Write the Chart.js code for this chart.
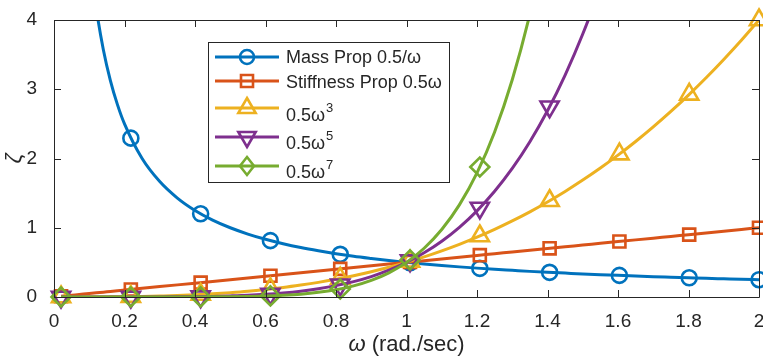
<!DOCTYPE html>
<html><head><meta charset="utf-8">
<script src="https://cdn.jsdelivr.net/npm/chart.js@4/dist/chart.umd.min.js"></script>
<style>html,body{margin:0;padding:0;background:#fff}#wrap{width:763px;height:360px}</style>
</head><body><div id="wrap"><canvas id="c" width="763" height="360"></canvas></div>
<script>
// ---- data ----
const lineOmega = [0.02,0.06,0.10,0.12,0.14,0.16,0.18,0.20,0.25,0.30,0.35,0.40,0.45,0.50,0.55,0.60,0.65,0.70,0.75,0.80,0.85,0.90,0.95,1.00,1.05,1.10,1.15,1.20,1.25,1.30,1.35,1.40,1.45,1.50,1.55,1.60,1.65,1.70,1.75,1.80,1.85,1.90,1.95,2.00];
const massLine = [null,null,5.000,4.167,3.571,3.125,2.778,2.500,2.000,1.667,1.429,1.250,1.111,1.000,0.909,0.833,0.769,0.714,0.667,0.625,0.588,0.556,0.526,0.500,0.476,0.455,0.435,0.417,0.400,0.385,0.370,0.357,0.345,0.333,0.323,0.313,0.303,0.294,0.286,0.278,0.270,0.263,0.256,0.250];
const stiffLine = [0.010,0.030,0.050,0.060,0.070,0.080,0.090,0.100,0.125,0.150,0.175,0.200,0.225,0.250,0.275,0.300,0.325,0.350,0.375,0.400,0.425,0.450,0.475,0.500,0.525,0.550,0.575,0.600,0.625,0.650,0.675,0.700,0.725,0.750,0.775,0.800,0.825,0.850,0.875,0.900,0.925,0.950,0.975,1.000];
const cubicLine = [0.000,0.000,0.001,0.001,0.001,0.002,0.003,0.004,0.008,0.014,0.021,0.032,0.046,0.063,0.083,0.108,0.137,0.172,0.211,0.256,0.307,0.365,0.429,0.500,0.579,0.666,0.760,0.864,0.977,1.099,1.230,1.372,1.524,1.688,1.862,2.048,2.246,2.457,2.680,2.916,3.166,3.430,3.707,4.000];
const quinticLine = [0,0,0,0,0,0,0,0,0.000,0.001,0.003,0.005,0.009,0.016,0.025,0.039,0.058,0.084,0.119,0.164,0.222,0.295,0.387,0.500,0.638,0.805,1.006,1.244,1.526,1.856,2.242,2.689,3.205,3.797,4.473,5.243,null,null,null,null,null,null,null,null];
const septicLine = [0,0,0,0,0,0,0,0,0.000,0.000,0.000,0.001,0.002,0.004,0.008,0.014,0.025,0.041,0.067,0.105,0.160,0.239,0.349,0.500,0.704,0.974,1.330,1.792,2.384,3.137,4.086,5.271,null,null,null,null,null,null,null,null,null,null,null,null];

const markerOmega = [0.02,0.218,0.416,0.614,0.812,1.01,1.208,1.406,1.604,1.802,2.0];
const massMarkers = [null,2.294,1.202,0.814,0.616,0.495,0.414,0.356,0.312,0.277,0.250];
const stiffMarkers = [0.010,0.109,0.208,0.307,0.406,0.505,0.604,0.703,0.802,0.901,1.000];
const cubicMarkers = [0.000,0.005,0.036,0.116,0.268,0.515,0.881,1.390,2.063,2.926,4.000];
const quinticMarkers = [0.000,0.000,0.006,0.044,0.176,0.526,1.286,2.747,null,null,null];
const septicMarkers = [0.000,0.000,0.001,0.016,0.116,0.536,1.877,null,null,null,null];

const xTickValues = [0,0.2,0.4,0.6,0.8,1,1.2,1.4,1.6,1.8,2];
const xTickLabels = ['0','0.2','0.4','0.6','0.8','1','1.2','1.4','1.6','1.8','2'];
const yTickValues = [0,1,2,3,4];
const yTickLabels = ['0','1','2','3','4'];

const seriesNames = ['Mass Prop 0.5/\u03C9','Stiffness Prop 0.5\u03C9','0.5\u03C9','0.5\u03C9','0.5\u03C9'];
const seriesSup = ['','','3','5','7'];
const xTitleSym = '\u03C9';
const xTitleRest = ' (rad./sec)';
const yTitle = '\u03B6';

// ---- styles ----
const colors = ['#0072BD','#D95319','#EDB120','#7E2F8E','#77AC30'];
const styles = ['circle','rect','triUp','triDown','diamond'];
const FONT = "'Liberation Sans', Arial, Helvetica, sans-serif";
const AX = '#262626';

const lines = [massLine, stiffLine, cubicLine, quinticLine, septicLine];
const markers = [massMarkers, stiffMarkers, cubicMarkers, quinticMarkers, septicMarkers];
const cjsStyle = {
  circle:{pointStyle:'circle',radius:7.5,rotation:0},
  rect:{pointStyle:'rect',radius:8.5,rotation:0},
  triUp:{pointStyle:'triangle',radius:10.5,rotation:0},
  triDown:{pointStyle:'triangle',radius:10.5,rotation:180},
  diamond:{pointStyle:'rectRot',radius:9.5,rotation:0}
};

const datasets = [];
for (let s = 0; s < 5; s++) {
  datasets.push({
    type:'line', label:seriesNames[s]+seriesSup[s],
    data: lineOmega.map((x,i)=>({x, y: lines[s][i]})),
    borderColor: colors[s], borderWidth: 3, pointRadius: 0,
    cubicInterpolationMode:'monotone', fill:false, clip: 0,
    order: 20 - 2*s
  });
  const st = cjsStyle[styles[s]];
  datasets.push({
    type:'line', label:seriesNames[s]+seriesSup[s]+' markers',
    data: markerOmega.map((x,i)=>({x, y: markers[s][i]})),
    showLine:false, borderColor: colors[s], backgroundColor:'rgba(0,0,0,0)',
    pointStyle: st.pointStyle, pointRadius: st.radius, pointRotation: st.rotation,
    pointBorderWidth: 2.6, pointBorderColor: colors[s], pointBackgroundColor:'rgba(0,0,0,0)',
    clip: false, order: 19 - 2*s
  });
}

function drawMarker(ctx, style, x, y, color) {
  ctx.save();
  ctx.strokeStyle = color; ctx.lineWidth = 2.6; ctx.beginPath();
  const s60 = Math.sin(Math.PI/3);
  if (style === 'circle') ctx.arc(x, y, 7, 0, Math.PI*2);
  else if (style === 'rect') ctx.rect(x-6, y-6, 12, 12);
  else if (style === 'triUp') { const r=10; ctx.moveTo(x, y-r); ctx.lineTo(x+r*s60, y+r/2); ctx.lineTo(x-r*s60, y+r/2); }
  else if (style === 'triDown') { const r=10; ctx.moveTo(x, y+r); ctx.lineTo(x+r*s60, y-r/2); ctx.lineTo(x-r*s60, y-r/2); }
  else if (style === 'diamond') { ctx.moveTo(x, y-9); ctx.lineTo(x+7, y); ctx.lineTo(x, y+9); ctx.lineTo(x-7, y); }
  ctx.closePath(); ctx.stroke(); ctx.restore();
}

const boxPlugin = {
  id:'boxAndLegend',
  afterDatasetsDraw(chart) {
    const ctx = chart.ctx, a = chart.chartArea;
    const xs = chart.scales.x, ys = chart.scales.y;
    ctx.save();
    ctx.strokeStyle = AX; ctx.lineWidth = 1;
    ctx.beginPath();
    ctx.rect(Math.round(a.left)+0.5, Math.round(a.top)+0.5, Math.round(a.right-a.left), Math.round(a.bottom-a.top));
    ctx.stroke();
    const tl = 7;
    ctx.beginPath();
    xTickValues.forEach(v => {
      const px = Math.round(xs.getPixelForValue(v)) + 0.5;
      ctx.moveTo(px, a.bottom); ctx.lineTo(px, a.bottom - tl);
      ctx.moveTo(px, a.top); ctx.lineTo(px, a.top + tl);
    });
    yTickValues.forEach(v => {
      const py = Math.round(ys.getPixelForValue(v)) + 0.5;
      ctx.moveTo(a.left, py); ctx.lineTo(a.left + tl, py);
      ctx.moveTo(a.right, py); ctx.lineTo(a.right - tl, py);
    });
    ctx.stroke();

    // x axis title: italic omega + upright rest
    ctx.fillStyle = AX; ctx.textBaseline = 'alphabetic'; ctx.textAlign = 'left';
    ctx.font = 'italic 22px ' + FONT;
    const w1 = ctx.measureText(xTitleSym).width;
    ctx.font = '22px ' + FONT;
    const w2 = ctx.measureText(xTitleRest).width;
    const cx = (a.left + a.right) / 2;
    let tx = cx - (w1 + w2) / 2;
    ctx.font = 'italic 22px ' + FONT;
    ctx.fillText(xTitleSym, tx, 351);
    ctx.font = '22px ' + FONT;
    ctx.fillText(xTitleRest, tx + w1, 351);

    // legend
    const L = 208.5, T = 42.5, W = 241, H = 140;
    ctx.fillStyle = '#fff'; ctx.fillRect(L, T, W, H);
    ctx.strokeStyle = AX; ctx.lineWidth = 1; ctx.strokeRect(L, T, W, H);
    const rowLine = [57, 81, 108, 137, 166];
    const rowBase = [63, 88, 121, 149, 178];
    for (let s = 0; s < 5; s++) {
      const y = rowLine[s];
      ctx.strokeStyle = colors[s]; ctx.lineWidth = 3;
      ctx.beginPath(); ctx.moveTo(215, y); ctx.lineTo(279, y); ctx.stroke();
      drawMarker(ctx, styles[s], 247, y, colors[s]);
      ctx.fillStyle = AX; ctx.textBaseline = 'alphabetic'; ctx.textAlign = 'left';
      ctx.font = '18px ' + FONT;
      ctx.fillText(seriesNames[s], 286, rowBase[s]);
      if (seriesSup[s]) {
        const w = ctx.measureText(seriesNames[s]).width;
        ctx.font = '13px ' + FONT;
        ctx.fillText(seriesSup[s], 286 + w + 1, rowBase[s] - 9);
      }
    }
    ctx.restore();
  }
};

const zeroPad = () => ({left:0, top:0, right:0, bottom:0});

new Chart(document.getElementById('c'), {
  type:'line',
  data:{ datasets },
  options:{
    responsive:false, animation:false, devicePixelRatio:1,
    layout:{autoPadding:false, padding:{left:0,right:4,top:20,bottom:0}},
    plugins:{legend:{display:false}, tooltip:{enabled:false}},
    scales:{
      x:{
        type:'linear', min:0, max:2,
        grid:{display:false}, border:{display:false},
        ticks:{color:AX, font:{family:FONT,size:19}, padding:5, maxRotation:0, autoSkip:false,
               callback:(v,i)=>xTickLabels[i]},
        afterBuildTicks: s => { s.ticks = xTickValues.map(v=>({value:v})); },
        afterFit: s => { s.height = 63; s.paddingLeft = 0; s.paddingRight = 0; s.getPadding = zeroPad; },
        title:{display:false}
      },
      y:{
        type:'linear', min:0, max:4,
        grid:{display:false}, border:{display:false},
        ticks:{color:AX, font:{family:FONT,size:19}, padding:9, autoSkip:false,
               callback:(v,i)=>yTickLabels[i]},
        afterBuildTicks: s => { s.ticks = yTickValues.map(v=>({value:v})); },
        afterFit: s => { s.width = 54; s.paddingTop = 0; s.paddingBottom = 0; s.getPadding = zeroPad; },
        title:{display:true, text:yTitle, color:AX, font:{family:FONT,size:22,style:'italic',lineHeight:1}, padding:{top:4,bottom:0}}
      }
    }
  },
  plugins:[boxPlugin]
});
</script></body></html>
